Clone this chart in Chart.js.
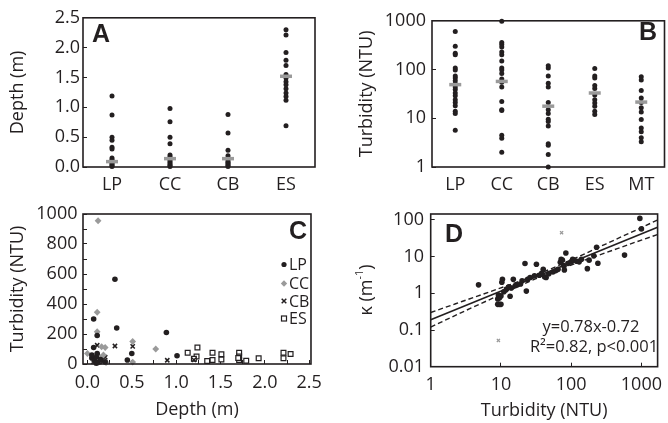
<!DOCTYPE html>
<html>
<head>
<meta charset="utf-8">
<script src="https://cdn.jsdelivr.net/npm/chart.js"></script>
<style>
html,body{margin:0;padding:0;background:#fff;}
body{width:668px;height:423px;overflow:hidden;position:relative;}
canvas{position:absolute;}
</style>
</head>
<body>
<canvas id="cA" width="334" height="210" style="left:0;top:0;width:334px;height:210px"></canvas>
<canvas id="cB" width="340" height="210" style="left:334px;top:0;width:340px;height:210px"></canvas>
<canvas id="cC" width="334" height="233" style="left:0;top:190px;width:334px;height:233px"></canvas>
<canvas id="cD" width="340" height="233" style="left:334px;top:190px;width:340px;height:233px"></canvas>
<script>
// ---------- Panel A: depth by site ----------
const catA = ['LP', 'CC', 'CB', 'ES'];
const depthLP = [1.19, 0.87, 0.5, 0.45, 0.33, 0.3, 0.15, 0.12, 0.1, 0.07, 0.05, 0.03, 0.01];
const depthCC = [0.98, 0.76, 0.5, 0.39, 0.2, 0.17, 0.14, 0.11, 0.08, 0.05, 0.03, 0.01];
const depthCB = [0.88, 0.57, 0.28, 0.19, 0.15, 0.12, 0.09, 0.07, 0.05, 0.03, 0.01];
const depthES = [2.3, 2.21, 1.92, 1.79, 1.7, 1.55, 1.49, 1.43, 1.38, 1.31, 1.24, 1.18, 1.12, 0.69];
const medianDepth = [0.09, 0.14, 0.14, 1.52];
const depthTicks = [0, 0.5, 1.0, 1.5, 2.0, 2.5];

// ---------- Panel B: turbidity by site ----------
const catB = ['LP', 'CC', 'CB', 'ES', 'MT'];
const turbLP = [600, 300, 215, 200, 108, 98, 74, 67, 59, 51, 44, 39, 33, 29, 24, 21, 18, 14, 12.5, 5.7];
const turbCC = [980, 360, 325, 290, 230, 200, 150, 108, 98, 83, 64, 55, 44, 22, 15, 14.5, 4.5, 3.9, 2.0];
const turbCB = [120, 108, 74, 52, 44, 21, 15, 12.5, 9.6, 8.6, 6.9, 3.0, 2.8, 1.8, 1.0];
const turbES = [105, 74, 67, 47, 41, 30, 24, 20.5, 17.7, 14, 12];
const turbMT = [71, 61, 37, 26, 21, 16.4, 13.5, 9.4, 6.3, 5.3, 4.0, 3.3];
const medianTurb = [49, 57, 17.7, 33, 21.5];
const turbLogTicks = [1, 10, 100, 1000];

// ---------- Panel C: turbidity vs depth ----------
const cLP = [[0.07,300],[0.31,565],[0.33,240],[0.11,190],[0.07,110],[0.11,70],[0.5,70],[0.45,27],[0.89,210],[1.01,55],[0.05,40],[0.08,20],[0.1,45],[0.12,10],[0.15,30],[0.2,15],[0.1,5],[0.05,60]];
const cCC = [[0.12,955],[0.11,345],[0.11,215],[0.0,70],[0.16,115],[0.2,110],[0.51,150],[0.51,13],[0.77,100],[0.21,10],[0.06,30],[0.13,50],[0.08,15],[0.18,60]];
const cCB = [[0.11,125],[0.31,120],[0.51,118],[0.9,25],[1.2,27],[0.2,45],[0.14,25],[0.07,15],[0.05,50],[0.1,8],[0.17,12]];
const cES = [[1.13,75],[1.24,110],[1.23,50],[1.35,20],[1.41,27],[1.41,75],[1.51,65],[1.51,30],[1.71,75],[1.71,50],[1.71,27],[1.79,22],[1.93,38],[2.21,75],[2.21,38],[2.29,67],[1.2,35],[1.7,40]];
const depthCTicks = [0, 0.25, 0.5, 0.75, 1.0, 1.25, 1.5, 1.75, 2.0, 2.25, 2.5];
const legendC = ['LP', 'CC', 'CB', 'ES'];

// ---------- Panel D: kappa vs turbidity ----------
const dPoints = [[4.8,1.7],[9,0.5],[9.5,0.5],[10,0.5],[9,0.7],[9.5,0.75],[9.2,0.9],[10,0.85],[10.3,2.0],[10.5,2.4],[11,1.1],[12,1.3],[13,1.5],[13.5,0.83],[14,1.4],[15,2.4],[16,1.6],[17,1.7],[19,1.8],[20,2.2],[22,6.5],[23,1.15],[24,2.4],[26,2.7],[30,3.0],[32,6.2],[35,3.1],[38,3.5],[40,4.5],[42,2.8],[44,2.7],[48,3.4],[55,3.8],[60,4.1],[65,4.5],[70,7.0],[72,8.5],[75,8.0],[78,5.7],[80,4.3],[84,12.5],[90,6.5],[100,7.2],[105,8.5],[110,8.0],[120,7.5],[130,7.2],[140,8.5],[170,4.7],[180,8.0],[210,10.5],[230,18],[240,6.6],[575,11],[950,110],[1000,57]];
const dOutliers = [[73,45],[9.2,0.052]];
const fitSlope = 0.78, fitIntercept = -0.72;
const fitRange = [1, 1700];
const bandT = [1, 3.16, 10, 31.6, 100, 316, 1000, 1700];
const bandUpper = [0.30, 0.65, 1.41, 3.16, 8.1, 22.4, 61.7, 100];
const bandLower = [0.12, 0.34, 0.93, 2.51, 5.9, 12.9, 28.2, 39.8];
const kappaTicks = [0.01, 0.1, 1, 10, 100];

// ---------- common ----------
const INK = '#231f20';
const GREY = '#9a9a9a';
const FONT = "'Open Sans', 'Noto Sans', sans-serif";
Chart.defaults.font.family = FONT;
Chart.defaults.font.size = 18;
Chart.defaults.color = INK;

const common = {
  responsive: false, animation: false, devicePixelRatio: 1, events: [],
  plugins: { legend: { display: false }, tooltip: { enabled: false } }
};
function fixedTicks(list) { return function (s) { s.ticks = list.map(v => ({ value: v })); }; }
function yAxisGrid() { return { drawOnChartArea: false, tickLength: -4, color: INK, lineWidth: 1 }; }

function framePlugin(letter, lx, ly, extra) {
  return {
    id: 'frame' + letter,
    afterDraw(chart) {
      const ctx = chart.ctx, a = chart.chartArea;
      ctx.save();
      ctx.strokeStyle = INK; ctx.lineWidth = 1.6;
      ctx.strokeRect(a.left, a.top, a.right - a.left, a.bottom - a.top);
      ctx.fillStyle = INK;
      ctx.font = "bold 25px 'Liberation Sans', Arial, sans-serif";
      ctx.textAlign = 'left'; ctx.textBaseline = 'alphabetic';
      ctx.fillText(letter, lx, ly);
      if (extra) extra(ctx, chart);
      ctx.restore();
    }
  };
}
function pts(cat, arr) { return arr.map(v => ({ x: cat, y: v })); }
function pairs(arr) { return arr.map(p => ({ x: p[0], y: p[1] })); }
function dotSet(data, r) {
  return { data: data, pointStyle: 'circle', pointRadius: r, pointBackgroundColor: INK, pointBorderColor: INK, pointBorderWidth: 0, clip: false };
}
function medianSet(data) {
  return { data: data, pointStyle: 'line', pointRadius: 6, pointBorderWidth: 3.5, pointBorderColor: GREY, pointBackgroundColor: GREY, clip: false };
}

// ---------- Chart A ----------
new Chart(document.getElementById('cA'), {
  type: 'scatter',
  data: { datasets: [
    medianSet(medianDepth.map((v, i) => ({ x: catA[i], y: v }))),
    dotSet([].concat(pts('LP', depthLP), pts('CC', depthCC), pts('CB', depthCB), pts('ES', depthES)), 2.5)
  ] },
  options: Object.assign({}, common, {
    layout: { padding: { left: 0, right: 19, top: 13, bottom: 0 } },
    scales: {
      x: { type: 'category', labels: catA, offset: true, grid: { display: false, drawTicks: false }, border: { display: false },
           ticks: { padding: 7.5 }, afterFit(s) { s.height = 43; } },
      y: { type: 'linear', min: 0, max: 2.5, afterBuildTicks: fixedTicks(depthTicks),
           ticks: { padding: 7, callback: v => v.toFixed(1) }, grid: yAxisGrid(), border: { display: false },
           title: { display: true, text: 'Depth (m)', padding: { top: 7, bottom: 0 } },
           afterFit(s) { s.width = 83; } }
    }
  }),
  plugins: [framePlugin('A', 92, 42)]
});

// ---------- Chart B ----------
new Chart(document.getElementById('cB'), {
  type: 'scatter',
  data: { datasets: [
    medianSet(medianTurb.map((v, i) => ({ x: catB[i], y: v }))),
    dotSet([].concat(pts('LP', turbLP), pts('CC', turbCC), pts('CB', turbCB), pts('ES', turbES), pts('MT', turbMT)), 2.5)
  ] },
  options: Object.assign({}, common, {
    layout: { padding: { left: 0, right: 7, top: 14, bottom: 0 } },
    scales: {
      x: { type: 'category', labels: catB, offset: true, grid: { display: false, drawTicks: false }, border: { display: false },
           ticks: { padding: 7 }, afterFit(s) { s.height = 43; } },
      y: { type: 'logarithmic', min: 1, max: 1000, afterBuildTicks: fixedTicks(turbLogTicks),
           ticks: { padding: 10, callback: v => String(v) }, grid: yAxisGrid(), border: { display: false },
           title: { display: true, text: 'Turbidity (NTU)', padding: { top: 22, bottom: 0 } },
           afterFit(s) { s.width = 98; } }
    }
  }),
  plugins: [framePlugin('B', 305, 40)]
});

// ---------- Chart C ----------
function legendCDraw(ctx) {
  const ys = [74.5, 93.5, 111, 128.5];
  const mx = 284;
  ctx.font = "16px " + FONT;
  ctx.textAlign = 'left'; ctx.textBaseline = 'middle';
  legendC.forEach((name, i) => {
    const y = ys[i];
    ctx.save();
    if (i === 0) { ctx.fillStyle = INK; ctx.beginPath(); ctx.arc(mx, y, 2.6, 0, Math.PI * 2); ctx.fill(); }
    if (i === 1) { ctx.fillStyle = GREY; ctx.beginPath(); ctx.moveTo(mx, y - 3.2); ctx.lineTo(mx + 3.2, y); ctx.lineTo(mx, y + 3.2); ctx.lineTo(mx - 3.2, y); ctx.closePath(); ctx.fill(); }
    if (i === 2) { ctx.strokeStyle = INK; ctx.lineWidth = 1.5; ctx.beginPath(); ctx.moveTo(mx - 2.3, y - 2.3); ctx.lineTo(mx + 2.3, y + 2.3); ctx.moveTo(mx + 2.3, y - 2.3); ctx.lineTo(mx - 2.3, y + 2.3); ctx.stroke(); }
    if (i === 3) { ctx.strokeStyle = INK; ctx.lineWidth = 1.2; ctx.strokeRect(mx - 2.5, y - 2.5, 5, 5); }
    ctx.restore();
    ctx.fillStyle = INK;
    ctx.fillText(name, mx + 5, y + 1);
  });
}
new Chart(document.getElementById('cC'), {
  type: 'scatter',
  data: { datasets: [
    { data: pairs(cLP), pointStyle: 'circle', pointRadius: 2.8, pointBackgroundColor: INK, pointBorderWidth: 0, clip: false },
    { data: pairs(cCC), pointStyle: 'rectRot', pointRadius: 3.4, pointBackgroundColor: GREY, pointBorderWidth: 0, clip: false },
    { data: pairs(cCB), pointStyle: 'crossRot', pointRadius: 3, pointBorderColor: INK, pointBorderWidth: 1.5, clip: false },
    { data: pairs(cES), pointStyle: 'rect', pointRadius: 3.4, pointBackgroundColor: '#fff', pointBorderColor: INK, pointBorderWidth: 1.2, clip: false }
  ] },
  options: Object.assign({}, common, {
    layout: { padding: { left: 0, right: 17, top: 24, bottom: 0 } },
    scales: {
      x: { type: 'linear', min: -0.05, max: 2.52, afterBuildTicks: fixedTicks(depthCTicks),
           ticks: { padding: 12, autoSkip: false, maxRotation: 0, callback: v => (Math.abs(v * 2 - Math.round(v * 2)) < 1e-6 ? v.toFixed(1) : '') },
           grid: yAxisGrid(), border: { display: false },
           title: { display: true, text: 'Depth (m)', padding: { top: 0, bottom: 2 } },
           afterFit(s) { s.height = 59; } },
      y: { type: 'linear', min: 0, max: 1000, afterBuildTicks: fixedTicks([0,100,200,300,400,500,600,700,800,900,1000]),
           ticks: { padding: 9.5, autoSkip: false, callback: v => (v % 200 === 0 ? String(v) : '') },
           grid: yAxisGrid(), border: { display: false },
           title: { display: true, text: 'Turbidity (NTU)', padding: { top: 7, bottom: 0 } },
           afterFit(s) { s.width = 83; } }
    }
  }),
  plugins: [framePlugin('C', 289, 49, legendCDraw)]
});

// ---------- Chart D ----------
function fitLine() {
  return fitRange.map(t => ({ x: t, y: Math.pow(10, fitSlope * Math.log10(t) + fitIntercept) }));
}
function drawD(ctx, chart) {
  ctx.save();
  ctx.translate(33, 100);
  ctx.rotate(-Math.PI / 2);
  ctx.fillStyle = INK;
  const big = "18px " + FONT, small = "11px " + FONT;
  ctx.font = big; const w1 = ctx.measureText('\u03ba (m').width; const w3 = ctx.measureText(')').width;
  ctx.font = small; const w2 = ctx.measureText('-1').width;
  let x = -(w1 + w2 + w3) / 2;
  ctx.textBaseline = 'middle'; ctx.textAlign = 'left';
  ctx.font = big; ctx.fillText('\u03ba (m', x, 0); x += w1;
  ctx.font = small; ctx.fillText('-1', x, -7); x += w2;
  ctx.font = big; ctx.fillText(')', x, 0);
  ctx.restore();
  ctx.fillStyle = INK;
  ctx.font = "16.5px " + FONT;
  ctx.textAlign = 'center'; ctx.textBaseline = 'middle';
  ctx.fillText('y=0.78x-0.72', 257, 137);
  ctx.fillText('R\u00b2=0.82, p<0.001', 260, 157);
}
new Chart(document.getElementById('cD'), {
  type: 'scatter',
  data: { datasets: [
    { data: pairs(dPoints), pointStyle: 'circle', pointRadius: 2.8, pointBackgroundColor: INK, pointBorderWidth: 0, clip: false },
    { data: pairs(dOutliers), pointStyle: 'crossRot', pointRadius: 2.2, pointBorderColor: GREY, pointBorderWidth: 1.3, clip: false },
    { data: fitLine(), showLine: true, pointRadius: 0, borderColor: INK, borderWidth: 1.6 },
    { data: bandT.map((t, i) => ({ x: t, y: bandUpper[i] })), showLine: true, pointRadius: 0, borderColor: INK, borderWidth: 1.4, borderDash: [5, 3], cubicInterpolationMode: 'monotone' },
    { data: bandT.map((t, i) => ({ x: t, y: bandLower[i] })), showLine: true, pointRadius: 0, borderColor: INK, borderWidth: 1.4, borderDash: [5, 3], cubicInterpolationMode: 'monotone' }
  ] },
  options: Object.assign({}, common, {
    layout: { padding: { left: 0, right: 7, top: 24, bottom: 0 } },
    scales: {
      x: { type: 'logarithmic', min: 1, max: 1700, afterBuildTicks: fixedTicks(turbLogTicks),
           ticks: { padding: 11.5, autoSkip: false, maxRotation: 0, callback: v => String(v) },
           grid: yAxisGrid(), border: { display: false },
           title: { display: true, text: 'Turbidity (NTU)', padding: { top: 0, bottom: 1 } },
           afterFit(s) { s.height = 56.3; } },
      y: { type: 'logarithmic', min: 0.01, max: 145, afterBuildTicks: fixedTicks(kappaTicks),
           ticks: { padding: 10.7, autoSkip: false, callback: v => String(v) },
           grid: yAxisGrid(), border: { display: false },
           afterFit(s) { s.width = 96.7; } }
    }
  }),
  plugins: [framePlugin('D', 111, 52, drawD)]
});
</script>
</body>
</html>
